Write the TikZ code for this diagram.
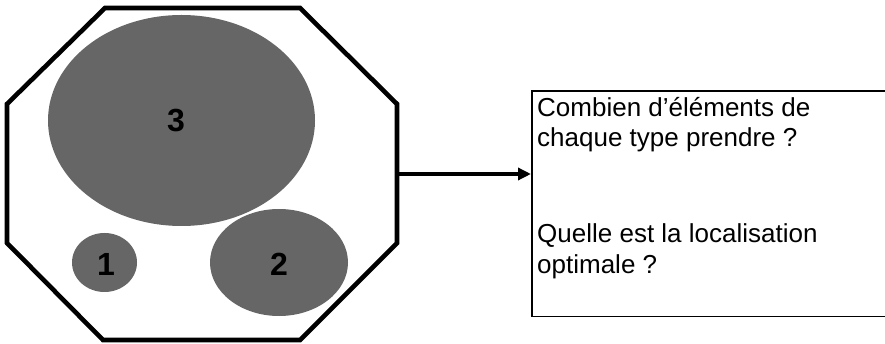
\documentclass[tikz,border=0pt]{standalone}
\usepackage{fontspec}
\setmainfont{Liberation Sans}
\usetikzlibrary{arrows.meta}
\definecolor{blobgray}{RGB}{102,102,102}
\tikzset{
  blob/.style={fill=blobgray, draw=none},
  numlabel/.style={font={\fontsize{32}{36}\selectfont\bfseries}, inner sep=0pt, anchor=center},
  qtext/.style={font={\fontsize{26}{30}\selectfont}, inner sep=0pt, anchor=base west},
  qbox/.style={draw=black, line width=1.8pt, anchor=north west, inner sep=0pt},
  outline/.style={draw=black, line width=4.6pt, line join=miter},
  conn/.style={line width=3.4pt, -{Triangle[length=13pt,width=12pt]}}
}
\begin{document}
\begin{tikzpicture}[x=1pt,y=1pt]
\useasboundingbox (0,0) rectangle (885,-344);
% octagon
\draw[outline] (105,-8) -- (300,-8) -- (397,-104) -- (397,-243) -- (300,-340) -- (103,-340) -- (7,-243) -- (7,-104) -- cycle;
% blobs
\path[blob] (181.5,-120.5) ellipse [x radius=133.5, y radius=105.5];
\path[blob] (104.5,-262.5) ellipse [x radius=32.5, y radius=29.5];
\path[blob] (279,-262.5) ellipse [x radius=69, y radius=53.5];
\node[numlabel] (n3) at (176,-121) {3};
\node[numlabel] (n1) at (106,-264) {1};
\node[numlabel] (n2) at (279,-264) {2};
% box
\node[qbox, minimum width=380pt, minimum height=225.5pt] (box) at (531,-90) {};
\node[qtext] (l1) at (537,-117) {Combien d’éléments de};
\node[qtext] (l2) at (537,-147) {chaque type prendre ?};
\node[qtext] (l3) at (537,-243) {Quelle est la localisation};
\node[qtext] (l4) at (537,-273) {optimale ?};
% connector
\coordinate (oct) at (397,-174);
\draw[conn] (oct) -- (oct -| box.west);
\end{tikzpicture}
\end{document}
